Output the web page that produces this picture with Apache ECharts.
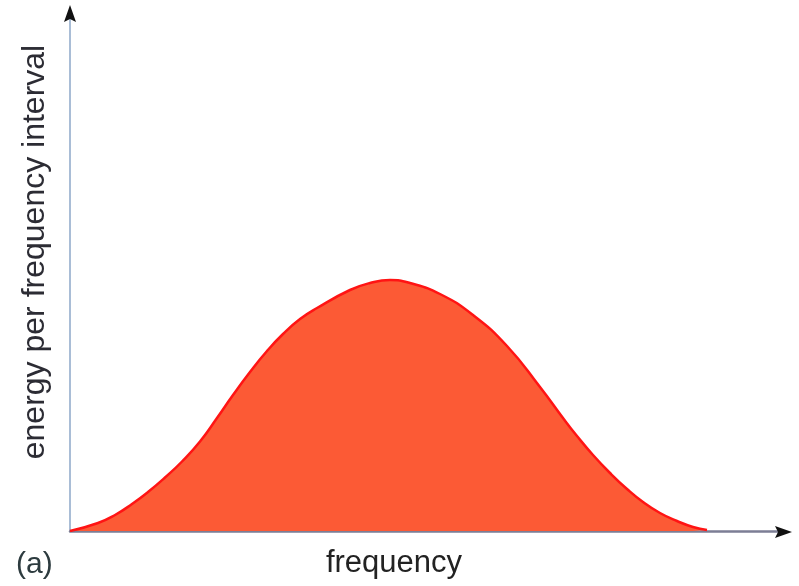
<!DOCTYPE html>
<html>
<head>
<meta charset="utf-8">
<title>Energy per frequency interval</title>
<script src="https://cdn.jsdelivr.net/npm/echarts@6/dist/echarts.min.js"></script>
<style>
  html, body { margin: 0; padding: 0; background: #ffffff; }
  #chart { width: 799px; height: 586px; }
</style>
</head>
<body>
<div id="chart"></div>
<script>
// Spectrum: frequency (arbitrary units) against energy per frequency interval
var frequency = [0, 2.8, 4.5, 6.2, 7.8, 9.5, 11.2, 13.0, 14.7, 16.3, 18.0, 19.7, 21.3,
                 23.0, 24.7, 28.0, 30.0, 32.0, 34.0, 37.0, 40.3, 43.7, 47.0, 49.3, 50.7,
                 52.3, 54.0, 55.7, 57.3, 59.0, 60.7, 62.3, 63.7];
var energy = [0, 0.8, 1.6, 2.7, 3.9, 5.35, 6.95, 8.95, 11.3, 13.6, 15.9, 18.0, 19.7,
              21.2, 22.3, 24.1, 24.8, 25.1, 24.8, 23.7, 21.6, 18.5, 14.4, 11.3, 9.5,
              7.6, 5.8, 4.2, 2.9, 1.8, 1.0, 0.4, 0.1];

var xAxisMax = 71.4;
var yAxisMax = 51.8;

var xTitle = 'frequency';
var yTitle = 'energy per frequency interval';
var panelTag = '(a)';

// plot frame
var GRID = { left: 70, right: 15, top: 13, bottom: 55 };
var W = 799, H = 586;
var axisX = GRID.left;
var axisY = H - GRID.bottom;
var xEnd = W - GRID.right;
var yEnd = GRID.top;

var points = frequency.map(function (f, i) { return [f, energy[i]]; });

var chart = echarts.init(document.getElementById('chart'), null, { renderer: 'canvas' });

var labelFont = '"Liberation Sans", Arial, sans-serif';

chart.setOption({
  animation: false,
  backgroundColor: '#ffffff',
  grid: { left: GRID.left, right: GRID.right, top: GRID.top, bottom: GRID.bottom, containLabel: false },
  xAxis: {
    type: 'value',
    min: 0,
    max: xAxisMax,
    axisLine: { show: true, onZero: false, lineStyle: { color: '#7c7e95', width: 2.5 } },
    axisTick: { show: false },
    axisLabel: { show: false },
    splitLine: { show: false }
  },
  yAxis: {
    type: 'value',
    min: 0,
    max: yAxisMax,
    axisLine: { show: true, onZero: false, lineStyle: { color: '#a9bdd6', width: 2 } },
    axisTick: { show: false },
    axisLabel: { show: false },
    splitLine: { show: false }
  },
  series: [{
    type: 'line',
    data: points,
    smooth: 0.5,
    symbol: 'none',
    z: 1,
    lineStyle: { color: '#ff1414', width: 2.5 },
    areaStyle: { color: '#fc5a35', opacity: 1 }
  }],
  graphic: [
    // arrowhead on the vertical axis
    {
      type: 'polygon',
      z: 100,
      shape: { points: [[axisX, yEnd - 8], [axisX + 6, yEnd + 9], [axisX, yEnd + 6], [axisX - 6, yEnd + 9]] },
      style: { fill: '#111111' }
    },
    // arrowhead on the horizontal axis
    {
      type: 'polygon',
      z: 100,
      shape: { points: [[xEnd + 8, axisY + 1], [xEnd - 9, axisY - 5], [xEnd - 6, axisY + 1], [xEnd - 9, axisY + 7]] },
      style: { fill: '#111111' }
    },
    {
      type: 'text',
      x: 394,
      y: 563,
      style: {
        text: xTitle,
        font: '31px ' + labelFont,
        fill: '#222222',
        textAlign: 'center',
        textVerticalAlign: 'middle'
      }
    },
    {
      type: 'text',
      x: 35,
      y: 252,
      rotation: Math.PI / 2,
      style: {
        text: yTitle,
        font: '32px ' + labelFont,
        fill: '#2c2c34',
        textAlign: 'center',
        textVerticalAlign: 'middle'
      }
    },
    {
      type: 'text',
      x: 16,
      y: 565,
      style: {
        text: panelTag,
        font: '30px ' + labelFont,
        fill: '#2d3b3f',
        textAlign: 'left',
        textVerticalAlign: 'middle'
      }
    }
  ]
});
</script>
</body>
</html>
